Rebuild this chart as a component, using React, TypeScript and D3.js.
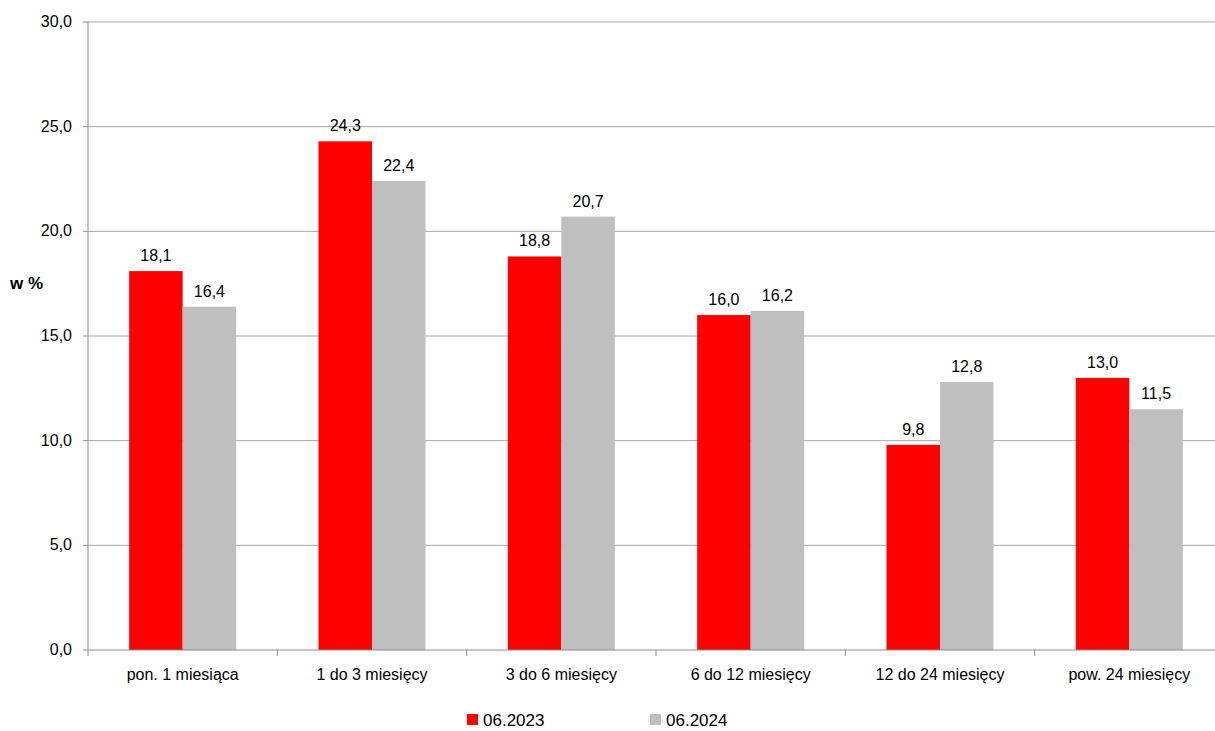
import React from "react";
import * as d3 from "d3";

const categories = ["pon. 1 miesiąca", "1 do 3 miesięcy", "3 do 6 miesięcy", "6 do 12 miesięcy", "12 do 24 miesięcy", "pow. 24 miesięcy"];
const series2023 = [18.1, 24.3, 18.8, 16.0, 9.8, 13.0];
const series2024 = [16.4, 22.4, 20.7, 16.2, 12.8, 11.5];
const seriesNames = ["06.2023", "06.2024"];
const colors = ["#ff0000", "#bfbfbf"];
const yTicks = [0, 5, 10, 15, 20, 25, 30];

export default function App() {
  const W = 1215, H = 731;
  const left = 88, right = 1224, top = 22, bottom = 650;
  const x = d3.scaleBand().domain(categories).range([left, right]);
  const y = d3.scaleLinear().domain([0, 30]).range([bottom, top]);
  const bw = 53.5;
  const fmt = (v: number) => v.toFixed(1).replace(".", ",");
  const font = "'Liberation Sans', Arial, sans-serif";
  const data = [series2023, series2024];
  return (
    <svg width={W} height={H} style={{ position: "absolute", left: 0, top: 0, fontFamily: font }}>
      {yTicks.map(t => (
        <g key={t}>
          {t > 0 && <line x1={left} x2={right} y1={y(t)} y2={y(t)} stroke="#a6a6a6" />}
          <line x1={left - 5} x2={left} y1={y(t)} y2={y(t)} stroke="#8c8c8c" />
          <text x={72} y={y(t) + 5} textAnchor="end" fontSize={16}>{fmt(t)}</text>
        </g>
      ))}
      <line x1={left} x2={left} y1={top} y2={bottom} stroke="#8c8c8c" />
      {categories.map((c, i) => {
        const cx = x(c)! + x.bandwidth() / 2;
        return (
          <g key={c}>
            {data.map((s, j) => {
              const bx = cx - bw + j * bw;
              return (
                <g key={j}>
                  <rect x={bx} y={y(s[i])} width={bw} height={bottom - y(s[i])} fill={colors[j]} />
                  <text x={bx + bw / 2} y={y(s[i]) - 10} textAnchor="middle" fontSize={16}>{fmt(s[i])}</text>
                </g>
              );
            })}
            <text x={cx} y={680} textAnchor="middle" fontSize={16}>{c}</text>
            <line x1={x(c)! + x.bandwidth()} x2={x(c)! + x.bandwidth()} y1={bottom} y2={bottom + 6} stroke="#8c8c8c" />
          </g>
        );
      })}
      <line x1={left} x2={left} y1={bottom} y2={bottom + 6} stroke="#8c8c8c" />
      <line x1={left} x2={right} y1={bottom} y2={bottom} stroke="#8c8c8c" />
      <text x={10} y={289} fontSize={17} fontWeight="bold">w %</text>
      {seriesNames.map((n, i) => (
        <g key={n} transform={`translate(${467 + i * 183},0)`}>
          <rect x={0} y={714} width={11} height={11} fill={colors[i]} />
          <text x={16} y={726} fontSize={17}>{n}</text>
        </g>
      ))}
    </svg>
  );
}
